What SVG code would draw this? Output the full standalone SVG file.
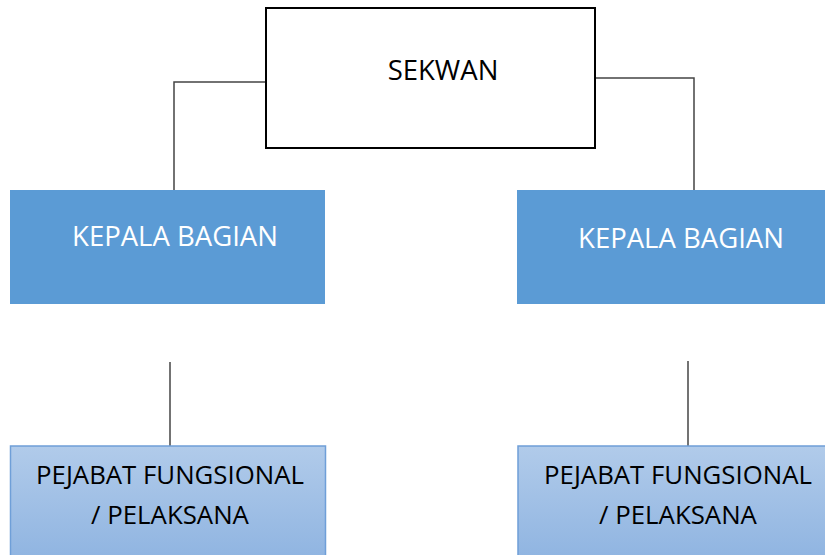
<svg xmlns="http://www.w3.org/2000/svg" width="825" height="555" viewBox="0 0 825 555">
<defs>
<linearGradient id="g" x1="0" y1="0" x2="0" y2="1">
<stop offset="0" stop-color="#b1cbea"/>
<stop offset="1" stop-color="#8fb4e1"/>
</linearGradient>
<style>
.t{font-family:"Open Sans","Noto Sans","DejaVu Sans",sans-serif;text-anchor:middle}
.w{fill:#ffffff;font-size:27.5px}
.s{fill:#000000;font-size:27.5px}
.k{fill:#000000;font-size:25.8px}
.c{fill:none;stroke:#444444;stroke-width:1.5}
.kb{fill:#5b9bd5}
.pf{fill:url(#g);stroke:#6f9fd8;stroke-width:1.5}
</style>
</defs>
<rect width="825" height="555" fill="#ffffff"/>
<g id="connectors">
<polyline class="c" points="266,82 174,82 174,190"/>
<polyline class="c" points="595,78 694,78 694,190"/>
<line class="c" x1="170" y1="362" x2="170" y2="446"/>
<line class="c" x1="688" y1="361" x2="688" y2="446"/>
</g>
<g id="sekwan">
<rect x="266" y="8" width="329" height="140" fill="#ffffff" stroke="#000000" stroke-width="2"/>
<text class="t s" x="443" y="80">SEKWAN</text>
</g>
<g id="kepala-kiri">
<rect class="kb" x="10" y="190" width="315" height="114"/>
<text class="t w" x="175" y="246">KEPALA BAGIAN</text>
</g>
<g id="kepala-kanan">
<rect class="kb" x="517" y="190" width="308" height="114"/>
<text class="t w" x="681" y="248">KEPALA BAGIAN</text>
</g>
<g id="pejabat-kiri">
<rect class="pf" x="10.5" y="446" width="315" height="115"/>
<text class="t k" x="170" y="484">PEJABAT FUNGSIONAL</text>
<text class="t k" x="170" y="524">/ PELAKSANA</text>
</g>
<g id="pejabat-kanan">
<rect class="pf" x="518" y="446" width="315" height="115"/>
<text class="t k" x="678" y="484">PEJABAT FUNGSIONAL</text>
<text class="t k" x="678" y="524">/ PELAKSANA</text>
</g>
</svg>
